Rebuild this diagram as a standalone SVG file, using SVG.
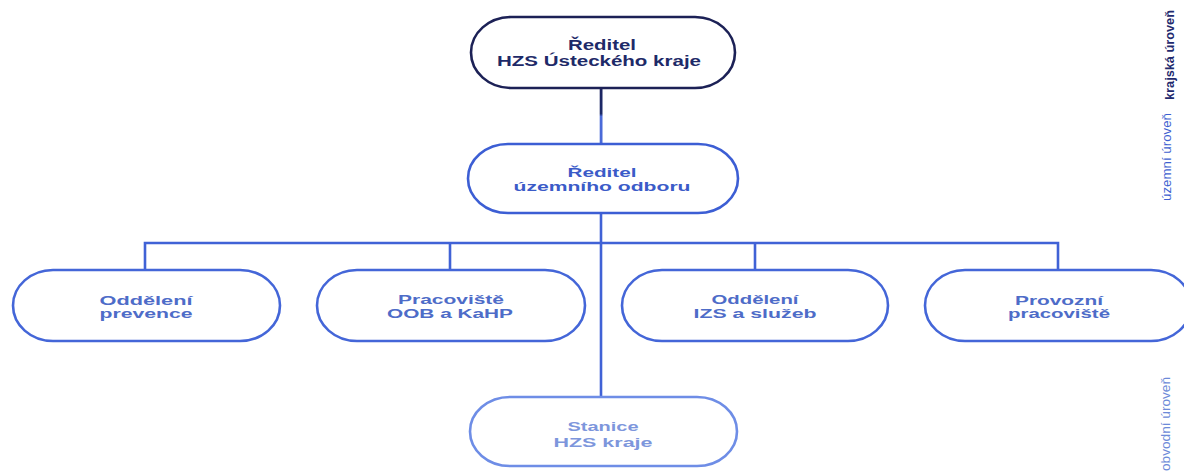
<svg xmlns="http://www.w3.org/2000/svg" width="1184" height="472" viewBox="0 0 1184 472">
<style>
.node{fill:#ffffff;stroke-width:2.6}
.t{font-family:"Liberation Sans",Arial,sans-serif;font-weight:bold;text-anchor:middle}
.lvl{font-family:"Liberation Sans",Arial,sans-serif;font-size:12px}
.c{fill:none;stroke:#4062d6;stroke-width:2.6}
</style>
<defs>
<linearGradient id="g1" x1="0" y1="0" x2="0" y2="1">
<stop offset="0" stop-color="#1c2460"/>
<stop offset="0.45" stop-color="#1c2a6a"/>
<stop offset="0.5" stop-color="#4a6ad8"/>
<stop offset="1" stop-color="#4a6ad8"/>
</linearGradient>
</defs>
<rect width="1184" height="472" fill="#ffffff"/>
<g id="connectors">
<rect x="599.7" y="88" width="2.8" height="57" fill="url(#g1)"/>
<line class="c" x1="601" y1="213" x2="601" y2="397"/>
<polyline class="c" points="145,270 145,243 1058,243 1058,270"/>
<line class="c" x1="450" y1="243" x2="450" y2="270"/>
<line class="c" x1="755" y1="243" x2="755" y2="270"/>
</g>
<g id="n-reditel-hzs">
<rect class="node" x="471" y="17" width="264" height="71" rx="40" ry="35.5" stroke="#1c2156" stroke-width="3"/>
<text class="t" x="602" y="50" font-size="14" fill="#1e2a68" textLength="68" lengthAdjust="spacingAndGlyphs">Ředitel</text>
<text class="t" x="599" y="66" font-size="14" fill="#1e2a68" textLength="204" lengthAdjust="spacingAndGlyphs">HZS Ústeckého kraje</text>
</g>
<g id="n-reditel-uo">
<rect class="node" x="468" y="144" width="270" height="69" rx="40" ry="34.5" stroke="#3c5ed4"/>
<text class="t" x="602" y="177" font-size="13" fill="#3b5bc8" textLength="69" lengthAdjust="spacingAndGlyphs">Ředitel</text>
<text class="t" x="602" y="191" font-size="13" fill="#3b5bc8" textLength="177" lengthAdjust="spacingAndGlyphs">územního odboru</text>
</g>
<g id="n-prevence">
<rect class="node" x="13" y="270" width="267" height="71" rx="40" ry="35.5" stroke="#4466d8"/>
<text class="t" x="146" y="305" font-size="13" fill="#4e6cc8" textLength="93" lengthAdjust="spacingAndGlyphs">Oddělení</text>
<text class="t" x="146" y="318" font-size="13" fill="#4e6cc8" textLength="93" lengthAdjust="spacingAndGlyphs">prevence</text>
</g>
<g id="n-oob">
<rect class="node" x="317" y="270" width="268" height="71" rx="40" ry="35.5" stroke="#4466d8"/>
<text class="t" x="451" y="304" font-size="13" fill="#4e6cc8" textLength="106" lengthAdjust="spacingAndGlyphs">Pracoviště</text>
<text class="t" x="450" y="318" font-size="13" fill="#4e6cc8" textLength="126" lengthAdjust="spacingAndGlyphs">OOB a KaHP</text>
</g>
<g id="n-izs">
<rect class="node" x="622" y="270" width="266" height="71" rx="40" ry="35.5" stroke="#4466d8"/>
<text class="t" x="755" y="304" font-size="13" fill="#4e6cc8" textLength="87" lengthAdjust="spacingAndGlyphs">Oddělení</text>
<text class="t" x="755" y="318" font-size="13" fill="#4e6cc8" textLength="123" lengthAdjust="spacingAndGlyphs">IZS a služeb</text>
</g>
<g id="n-provozni">
<rect class="node" x="925" y="270" width="266" height="71" rx="40" ry="35.5" stroke="#4466d8"/>
<text class="t" x="1059" y="305" font-size="13" fill="#4e6cc8" textLength="88" lengthAdjust="spacingAndGlyphs">Provozní</text>
<text class="t" x="1059" y="318" font-size="13" fill="#4e6cc8" textLength="102" lengthAdjust="spacingAndGlyphs">pracoviště</text>
</g>
<g id="n-stanice">
<rect class="node" x="470" y="397" width="267" height="69" rx="40" ry="34.5" stroke="#6e8de6"/>
<text class="t" x="603" y="431" font-size="13" fill="#7d96dc" textLength="71" lengthAdjust="spacingAndGlyphs">Stanice</text>
<text class="t" x="603" y="447" font-size="13" fill="#7d96dc" textLength="99" lengthAdjust="spacingAndGlyphs">HZS kraje</text>
</g>
<g id="levels">
<text class="lvl" transform="translate(1174,100) rotate(-90)" fill="#1f2a6e" font-weight="bold" textLength="90" lengthAdjust="spacingAndGlyphs">krajská úroveň</text>
<text class="lvl" transform="translate(1171,201) rotate(-90)" fill="#3e5fd0" textLength="88" lengthAdjust="spacingAndGlyphs">územní úroveň</text>
<text class="lvl" transform="translate(1170,471) rotate(-90)" fill="#6d8ad8" textLength="94" lengthAdjust="spacingAndGlyphs">obvodní úroveň</text>
</g>
</svg>
